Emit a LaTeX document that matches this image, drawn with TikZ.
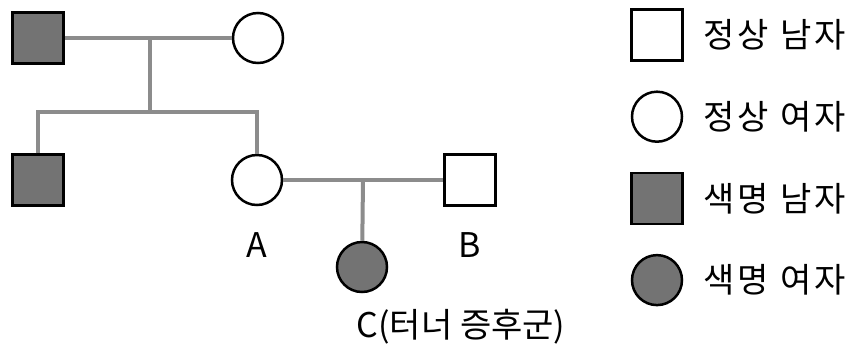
\documentclass[tikz,border=0pt]{standalone}
\usepackage{fontspec}
\newfontfamily\kr{Noto Sans CJK KR}
\newfontfamily\krwide[LetterSpace=10]{Noto Sans CJK KR}

\definecolor{cbgray}{gray}{0.45}
\definecolor{linkgray}{gray}{0.55}

\tikzset{
    healthy male/.style={draw,line width=2.5pt,minimum size=51pt,inner sep=0pt,fill=white},
    healthy female/.style={circle,draw,line width=2.5pt,minimum size=50pt,inner sep=0pt,fill=white},
    affected male/.style={healthy male,fill=cbgray},
    affected female/.style={healthy female,fill=cbgray},
    link/.style={draw=linkgray,line width=4pt},
    tag/.style={inner sep=0pt}
}

\begin{document}
\begin{tikzpicture}[x=1pt,y=-1pt,font=\kr\fontsize{34}{40}\selectfont]
    \useasboundingbox (0,0) rectangle (852,349);
    % first generation
    \node[affected male] (gf) at (38,38) {};
    \node[healthy female] (gm) at (258,38) {};
    % second generation
    \node[affected male] (son) at (38,180) {};
    \node[healthy female] (A) at (257,180) {};
    \node[healthy male] (B) at (470,180) {};
    % third generation
    \node[affected female] (C) at (362,267) {};

    \coordinate (u1) at (150,38);
    \coordinate (sib) at (150,112);
    \coordinate (u2) at (363,180);

    \draw[link] (gf) -- (gm);
    \draw[link] (u1) -- (sib);
    \draw[link] (son) |- (sib) -| (A);
    \draw[link] (A) -- (B);
    \draw[link] (u2) -- (C);

    \node[tag] (la) at (257,245) {A};
    \node[tag] (lb) at (470,245) {B};
    \node[tag] (lc) at (461,327) {C(터너 증후군)};

    % key
    \foreach \sty/\txt [count=\i] in {healthy male/정상 남자, healthy female/정상 여자,
            affected male/색명 남자, affected female/색명 여자} {
        \node[\sty] (key\i) at (657,{35+81.7*(\i-1)}) {};
        \node[tag,anchor=west,font=\krwide\fontsize{34}{40}\selectfont] (keytxt\i) at (703,{35+81.7*(\i-1)}) {\txt};
    }
\end{tikzpicture}
\end{document}
